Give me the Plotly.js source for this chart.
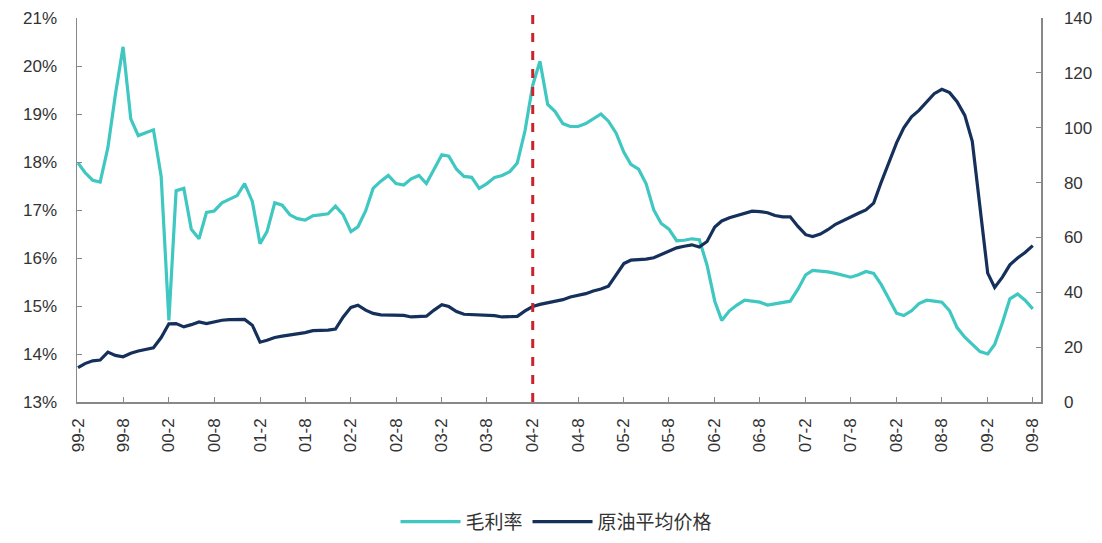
<!DOCTYPE html>
<html>
<head>
<meta charset="utf-8">
<script src="https://cdn.plot.ly/plotly-3.0.1.min.js"></script>
<style>html,body{margin:0;padding:0;background:#fff;}#chart{width:1102px;height:543px;}</style>
</head>
<body>
<div id="chart"></div>
<script>
// Monthly data, starting 1999-02
const startYear = 1999, startMonth = 2;
const seriesNames = ["毛利率", "原油平均价格"];
const grossMargin = [
  17.98, 17.78, 17.62, 17.58, 18.3, 19.4, 20.4, 18.9, 18.55, 18.62,
  18.67, 17.7, 14.7, 17.4, 17.45, 16.6, 16.4, 16.95, 16.98, 17.15,
  17.22, 17.3, 17.55, 17.18, 16.3, 16.55, 17.15, 17.1, 16.9, 16.82,
  16.79, 16.88, 16.9, 16.92, 17.08, 16.9, 16.55, 16.65, 16.98, 17.45,
  17.6, 17.72, 17.55, 17.52, 17.65, 17.72, 17.55, 17.85, 18.15, 18.12,
  17.85, 17.7, 17.68, 17.45, 17.55, 17.68, 17.72, 17.8, 17.98, 18.65,
  19.6, 20.1, 19.2, 19.05, 18.8, 18.74, 18.74, 18.8, 18.9, 19.0,
  18.85, 18.6, 18.2, 17.95, 17.85, 17.55, 17.0, 16.72, 16.6, 16.36,
  16.37, 16.4, 16.38, 15.85, 15.1, 14.7, 14.9, 15.02, 15.12, 15.1,
  15.08, 15.02, 15.05, 15.08, 15.1, 15.35, 15.65, 15.74, 15.73, 15.71,
  15.68, 15.64, 15.6, 15.65, 15.72, 15.68, 15.45, 15.15, 14.85, 14.8,
  14.9, 15.05, 15.12, 15.1, 15.08, 14.9, 14.55, 14.35, 14.2, 14.05,
  14.0, 14.2, 14.65, 15.15, 15.25, 15.12, 14.94
];
const oilPrice = [
  12.5, 14.0, 15.0, 15.3, 18.2, 17.0, 16.5, 17.8, 18.6, 19.2,
  19.8, 23.5, 28.5, 28.6, 27.4, 28.2, 29.2, 28.6, 29.3, 29.8,
  30.0, 30.1, 30.1, 28.0, 21.8, 22.5, 23.5, 24.0, 24.4, 25.0,
  25.3, 26.0, 26.1, 26.2, 26.6, 31.0, 34.5, 35.3, 33.5, 32.3,
  31.8, 31.8, 31.8, 31.6, 31.0, 31.1, 31.3, 33.5, 35.5, 34.8,
  33.0, 32.0, 31.9, 31.8, 31.8, 31.5, 31.0, 31.0, 31.2, 33.2,
  34.8, 35.6, 36.2, 36.7, 37.3, 38.3, 38.8, 39.5, 40.5, 41.2,
  42.2, 46.5, 50.5, 51.7, 51.8, 52.1, 52.6, 53.7, 55.0, 56.2,
  56.8, 57.3, 56.5, 58.5, 63.8, 66.0, 67.2, 68.0, 69.0, 69.6,
  69.4, 69.0, 68.0, 67.5, 67.5, 64.0, 61.0, 60.3, 61.2, 62.8,
  64.8, 66.2, 67.6, 68.8, 70.0, 72.5, 80.0, 87.0, 94.5, 100.0,
  104.0, 106.3, 109.5, 112.4, 114.0, 112.8, 109.5, 104.5, 95.0, 70.0,
  47.0, 41.8, 45.5, 50.0, 52.5, 54.5, 57.0
];
const tickLabels = ["99-2","99-8","00-2","00-8","01-2","01-8","02-2","02-8","03-2","03-8","04-2",
                    "04-8","05-2","05-8","06-2","06-8","07-2","07-8","08-2","08-8","09-2","09-8"];
const markerLabel = "04-2";

function labelToDate(l){
  const p = l.split("-");
  const y = 2000 + parseInt(p[0],10) - (parseInt(p[0],10) > 50 ? 100 : 0);
  const m = parseInt(p[1],10);
  return y + "-" + String(m).padStart(2,"0") + "-01";
}
function monthDate(i){
  const t = (startMonth - 1) + i;
  const y = startYear + Math.floor(t/12);
  const m = (t % 12) + 1;
  return y + "-" + String(m).padStart(2,"0") + "-01";
}
const dates = grossMargin.map((_, i) => monthDate(i));
const tickVals = tickLabels.map(labelToDate);

const tickFont = {family: "Liberation Sans, Arial, sans-serif", size: 17, color: "#333"};

const traces = [
  {x: dates, y: grossMargin, name: seriesNames[0], type: "scatter", mode: "lines",
   line: {color: "#3fc7c1", width: 3.2}, yaxis: "y"},
  {x: dates, y: oilPrice, name: seriesNames[1], type: "scatter", mode: "lines",
   line: {color: "#15305a", width: 3.2}, yaxis: "y2"}
];

const layout = {
  width: 1102, height: 543,
  margin: {l: 77, r: 61, t: 18, b: 141},
  paper_bgcolor: "#fff", plot_bgcolor: "#fff",
  showlegend: true,
  legend: {orientation: "h", xref: "container", yref: "container",
           x: 0.505, xanchor: "center", y: 0.039, yanchor: "middle",
           font: {family: "Noto Sans CJK SC, sans-serif", size: 19, color: "#333"},
           itemwidth: 60},
  xaxis: {
    type: "date", automargin: false,
    range: ["1999-01-28", "2009-09-03"],
    tickmode: "array", tickvals: tickVals, ticktext: tickLabels,
    tickangle: -90, tickfont: tickFont,
    ticks: "inside", ticklen: 5, tickcolor: "#888",
    showline: true, linecolor: "#888", linewidth: 1.5,
    showgrid: false, zeroline: false, ticklabelstandoff: 8
  },
  yaxis: {
    range: [13, 21], dtick: 1, ticksuffix: "%", automargin: false,
    tickfont: tickFont, ticks: "inside", ticklen: 5, tickcolor: "#888",
    showline: true, linecolor: "#888", linewidth: 1.5,
    showgrid: false, zeroline: false, ticklabelstandoff: 15
  },
  yaxis2: {
    range: [0, 140], dtick: 20, overlaying: "y", side: "right", automargin: false,
    tickfont: tickFont, ticks: "inside", ticklen: 5, tickcolor: "#888",
    showline: true, linecolor: "#888", linewidth: 1.5,
    showgrid: false, zeroline: false, ticklabelstandoff: 18
  },
  shapes: [{
    type: "line", xref: "x", yref: "paper",
    x0: labelToDate(markerLabel), x1: labelToDate(markerLabel), y0: 0, y1: 1.027,
    line: {color: "#c8242c", width: 3, dash: "dash"}
  }]
};

Plotly.newPlot("chart", traces, layout, {displayModeBar: false, staticPlot: true});
</script>
</body>
</html>
